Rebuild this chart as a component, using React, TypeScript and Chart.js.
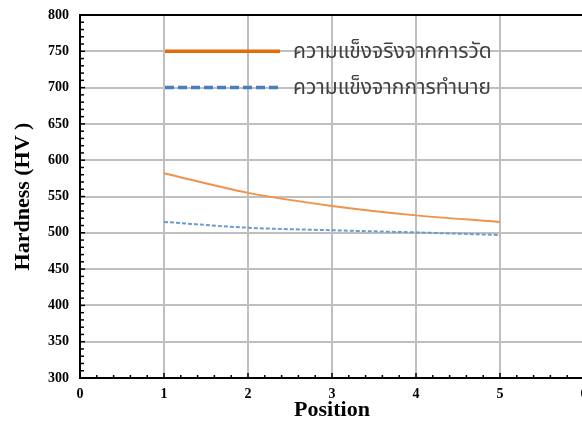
import React, { useEffect, useRef } from "react";
import { Chart, registerables } from "chart.js";

Chart.register(...registerables);

const positions = [1, 2, 3, 4, 5];
const measured = [582, 555, 537, 524, 515];
const predicted = [515, 507, 503.5, 500.5, 497];
const seriesNames = ["ความแข็งจริงจากการวัด", "ความแข็งจากการทำนาย"];
const xTitle = "Position";
const yTitle = "Hardness (HV )";

const legendStyles = [
  { color: "#E46C0A", dash: [] as number[], width: 3.5 },
  { color: "#4A7EBB", dash: [9, 4], width: 3.5 },
];

const decoPlugin = {
  id: "deco",
  afterDraw(chart: any) {
    const ctx = chart.ctx;
    const { left, right, top, bottom } = chart.chartArea;
    const xs = chart.scales.x;
    const ys = chart.scales.y;
    ctx.save();
    // frame
    ctx.strokeStyle = "#000";
    ctx.lineWidth = 2;
    ctx.beginPath();
    ctx.moveTo(left, top);
    ctx.lineTo(right, top);
    ctx.lineTo(right, bottom);
    ctx.lineTo(left, bottom);
    ctx.closePath();
    ctx.stroke();
    // minor ticks
    ctx.lineWidth = 1.5;
    for (let v = 300; v <= 800; v += 10) {
      const y = ys.getPixelForValue(v);
      ctx.beginPath();
      ctx.moveTo(left, y);
      ctx.lineTo(left + (v % 50 === 0 ? 5 : 4), y);
      ctx.stroke();
    }
    for (let i = 0; i <= 30; i++) {
      const x = xs.getPixelForValue(i * 0.2);
      ctx.beginPath();
      ctx.moveTo(x, bottom);
      ctx.lineTo(x, bottom - (i % 5 === 0 ? 5 : 3));
      ctx.stroke();
    }
    // legend
    const lx0 = 165, lx1 = 280, tx = 293;
    const rows = [ys.getPixelForValue(750), ys.getPixelForValue(700)];
    ctx.font = '21px "Noto Sans Thai", "Tahoma", "DejaVu Sans", sans-serif';
    ctx.textBaseline = "middle";
    ctx.fillStyle = "#404040";
    seriesNames.forEach((name, i) => {
      const st = legendStyles[i];
      ctx.strokeStyle = st.color;
      ctx.lineWidth = st.width;
      ctx.setLineDash(st.dash);
      ctx.beginPath();
      ctx.moveTo(lx0, rows[i]);
      ctx.lineTo(lx1, rows[i]);
      ctx.stroke();
      ctx.setLineDash([]);
      ctx.fillText(name, tx, rows[i] + 2);
    });
    ctx.restore();
  },
};

export default function App() {
  const ref = useRef<HTMLCanvasElement>(null);
  useEffect(() => {
    if (!ref.current) return;
    const chart = new Chart(ref.current, {
      type: "line",
      data: {
        datasets: [
          {
            label: seriesNames[0],
            data: positions.map((p, i) => ({ x: p, y: measured[i] })),
            borderColor: "#F0924C",
            borderWidth: 2,
            pointRadius: 0,
            cubicInterpolationMode: "monotone",
          },
          {
            label: seriesNames[1],
            data: positions.map((p, i) => ({ x: p, y: predicted[i] })),
            borderColor: "#6A9BD2",
            borderWidth: 2,
            borderDash: [4, 2],
            pointRadius: 0,
            cubicInterpolationMode: "monotone",
          },
        ],
      },
      options: {
        animation: false,
        responsive: false,
        maintainAspectRatio: false,
        layout: { padding: { top: 15, right: 16, bottom: 0, left: 0 } },
        plugins: { legend: { display: false }, tooltip: { enabled: false } },
        scales: {
          x: {
            type: "linear",
            min: 0,
            max: 6,
            ticks: {
              stepSize: 1,
              padding: 8,
              color: "#000",
              font: { family: '"Liberation Serif", serif', weight: "bold", size: 14 },
            },
            grid: { color: "#BFBFBF", lineWidth: 2, drawTicks: false },
            border: { display: false },
            title: {
              display: true,
              text: xTitle,
              color: "#000",
              padding: { top: 0, bottom: -3 },
              font: { family: '"Liberation Serif", serif', weight: "bold", size: 22 },
            },
            afterFit(scale: any) {
              scale.height = 43;
              scale.paddingLeft = 0;
              scale.paddingRight = 0;
            },
          },
          y: {
            min: 300,
            max: 800,
            ticks: {
              stepSize: 50,
              padding: 11,
              color: "#000",
              font: { family: '"Liberation Serif", serif', weight: "bold", size: 14 },
            },
            grid: { color: "#BFBFBF", lineWidth: 2, drawTicks: false },
            border: { display: false },
            title: {
              display: true,
              text: yTitle,
              color: "#000",
              padding: { top: 10, bottom: 0 },
              font: { family: '"Liberation Serif", serif', weight: "bold", size: 22 },
            },
            afterFit(scale: any) {
              scale.width = 80;
              scale.paddingTop = 0;
              scale.paddingBottom = 0;
            },
          },
        },
      },
      plugins: [decoPlugin],
    } as any);
    return () => chart.destroy();
  }, []);
  return (
    <div
      style={{
        position: "fixed",
        left: 0,
        top: 0,
        width: 582,
        height: 421,
        overflow: "hidden",
        background: "#fff",
      }}
    >
      <canvas ref={ref} width={600} height={421} style={{ width: 600, height: 421, display: "block" }} />
    </div>
  );
}
